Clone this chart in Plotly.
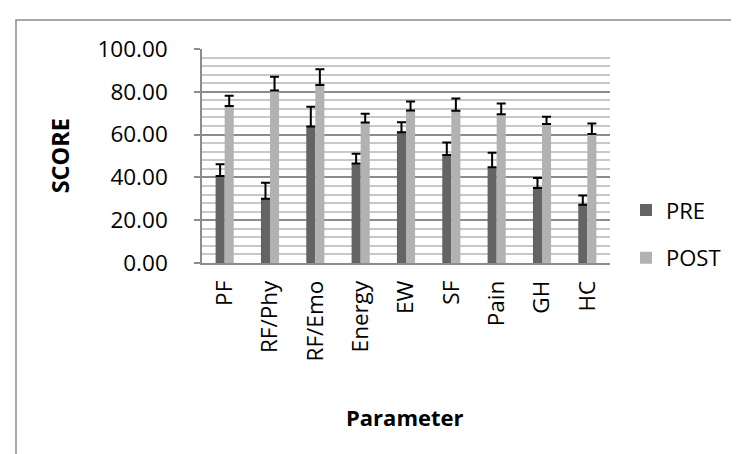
import plotly.graph_objects as go

categories = ["PF", "RF/Phy", "RF/Emo", "Energy", "EW", "SF", "Pain", "GH", "HC"]
pre_values = [40.7, 30.0, 63.8, 46.5, 61.1, 50.5, 44.7, 35.0, 27.2]
pre_errors = [5.4, 7.5, 9.2, 4.5, 4.7, 5.8, 6.8, 4.7, 4.4]
post_values = [73.4, 80.6, 83.2, 65.6, 71.3, 71.1, 69.5, 64.9, 60.3]
post_errors = [4.8, 6.4, 7.3, 4.2, 4.2, 5.8, 5.0, 3.4, 4.9]
y_ticks = [0, 20, 40, 60, 80, 100]
y_tick_labels = ["0.00", "20.00", "40.00", "60.00", "80.00", "100.00"]

FONT = "Open Sans"
FS = 22.5

fig = go.Figure()
fig.add_trace(go.Bar(
    x=categories, y=pre_values, name="PRE", legendgroup="pre",
    marker=dict(color="#646464", line=dict(width=0)),
    error_y=dict(type="data", array=pre_errors, arrayminus=[0] * len(pre_errors),
                 symmetric=False, color="black", thickness=2, width=4.5),
))
fig.add_trace(go.Bar(
    x=categories, y=post_values, name="POST", legendgroup="post",
    marker=dict(color="#b2b2b2", line=dict(width=0)),
    error_y=dict(type="data", array=post_errors, arrayminus=[0] * len(post_errors),
                 symmetric=False, color="black", thickness=2, width=4.5),
))

fig.update_layout(
    width=739, height=454,
    margin=dict(l=194, r=137, t=41, b=199, autoexpand=False),
    paper_bgcolor="white", plot_bgcolor="white",
    barmode="group", bargap=0.6, bargroupgap=0,
    font=dict(family=FONT, size=FS, color="black"),
    showlegend=True,
    legend=dict(x=(618 - 194) / 408, y=1 - (226.5 - 41) / 214.3, xanchor="left", yanchor="middle",
                font=dict(family=FONT, size=22), traceorder="grouped",
                tracegroupgap=16, bgcolor="rgba(0,0,0,0)"),
    xaxis=dict(
        showline=True, linecolor="#8c8c8c", linewidth=1.5,
        tickangle=-90, ticks="", showgrid=False,
        tickfont=dict(family=FONT, size=FS),
        ticklabelstandoff=7,
    ),
    yaxis=dict(
        range=[0, 100], tickvals=y_ticks, ticktext=y_tick_labels,
        showline=True, linecolor="#8c8c8c", linewidth=1.5,
        ticks="outside", ticklen=6, tickcolor="#8c8c8c", tickwidth=1.5,
        showgrid=True, gridcolor="#8c8c8c", gridwidth=1.5,
        minor=dict(dtick=4, showgrid=True, gridcolor="#c8c8c8", gridwidth=1.5, ticks=""),
        tickfont=dict(family=FONT, size=FS),
        ticklabelstandoff=22,
        zeroline=False,
    ),
    shapes=[dict(type="rect", xref="paper", yref="paper",
                 x0=(8 - 194) / 408, x1=1.5, y0=-1.2, y1=1 + (41 - 12) / 214.3,
                 line=dict(color="#8c8c8c", width=1.5), fillcolor="rgba(0,0,0,0)",
                 layer="below")],
    annotations=[
        dict(text="<b>SCORE</b>", xref="paper", yref="paper",
             x=(52 - 194) / 408, y=1 - (148.5 - 41) / 214.3, textangle=-90,
             showarrow=False, font=dict(family=FONT, size=23.5),
             xanchor="center", yanchor="middle"),
        dict(text="<b>Parameter</b>", xref="paper", yref="paper",
             x=(397 - 194) / 408, y=-(409 - 255) / 214.3,
             showarrow=False, font=dict(family=FONT, size=22),
             xanchor="center", yanchor="middle"),
    ],
)

fig.write_html("out.html")
